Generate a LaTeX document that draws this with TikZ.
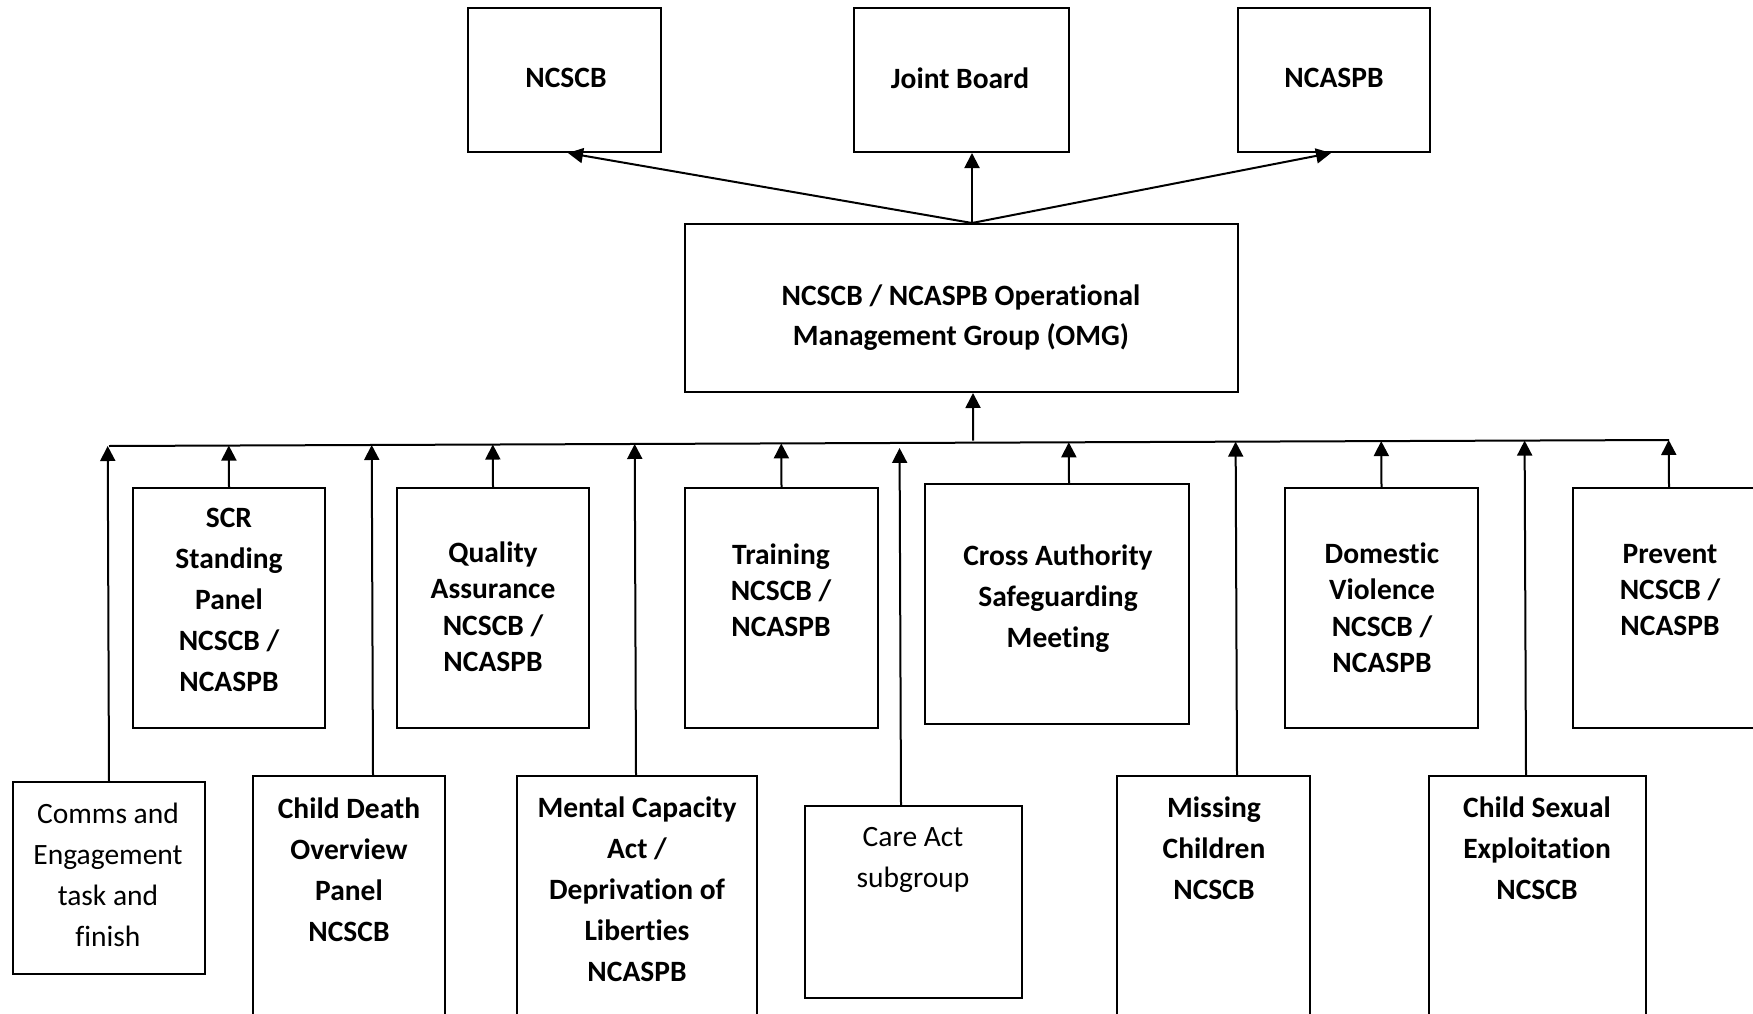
\documentclass[tikz,border=0pt]{standalone}
\usepackage{fontspec}
\setmainfont{Carlito}[Ligatures={NoCommon,NoContextual},Contextuals={NoAlternate}]
\usetikzlibrary{arrows.meta,calc}
\begin{document}
\begin{tikzpicture}[x=1pt,y=-1pt,
  box/.style={draw,line width=2pt,inner sep=0pt},
  ln/.style={line width=2pt},
  arr/.style={line width=2pt,-{Triangle[length=15pt,width=15pt]}},
  tb/.style={font=\bfseries\fontsize{29.5}{41}\selectfont,align=center,text depth=0pt,inner sep=0pt},
  tbs/.style={font=\bfseries\fontsize{29.5}{36.3}\selectfont,align=center,text depth=0pt,inner sep=0pt},
  tr/.style={font=\fontsize{29.5}{41}\selectfont,align=center,text depth=0pt,inner sep=0pt}]
\useasboundingbox (0,0) rectangle (1753,1014);
\clip (0,0) rectangle (1753,1014);
% top row
\node[box,minimum width=193pt,minimum height=144pt] (ncscb) at (564.5,80) {};
\node[box,minimum width=215pt,minimum height=144pt] (jb) at (961.5,80) {};
\node[box,minimum width=192pt,minimum height=144pt] (ncaspb) at (1334,80) {};
\node[tb] (t-ncscb) at (566,78) {NCSCB};
\node[tb] (t-jb) at (960,78) {Joint Board};
\node[tb] (t-ncaspb) at (1334,78) {NCASPB};
% OMG
\node[box,minimum width=553pt,minimum height=168pt] (omg) at (961.5,308) {};
\node[tb,font=\bfseries\fontsize{29.5}{40}\selectfont] (t-omg) at (961,315) {NCSCB / NCASPB Operational\\Management Group (OMG)};
% upper row of groups
\node[box,minimum width=192pt,minimum height=240pt] (scr) at (229,608) {};
\node[box,minimum width=192pt,minimum height=240pt] (qa) at (493,608) {};
\node[box,minimum width=193pt,minimum height=240pt] (trn) at (781.5,608) {};
\node[box,minimum width=264pt,minimum height=240pt] (ca) at (1057,604) {};
\node[box,minimum width=193pt,minimum height=240pt] (dv) at (1381.5,608) {};
\node[box,minimum width=192pt,minimum height=240pt] (pv) at (1669,608) {};
\node[tb] (t-scr) at (229,600) {SCR\\Standing\\Panel\\NCSCB /\\NCASPB};
\node[tbs] (t-qa) at (493,606.5) {Quality\\Assurance\\NCSCB /\\NCASPB};
\node[tbs] (t-trn) at (781,590) {Training\\NCSCB /\\NCASPB};
\node[tb] (t-ca) at (1058,596) {Cross Authority\\Safeguarding\\Meeting};
\node[tbs] (t-dv) at (1382,607.5) {Domestic\\Violence\\NCSCB /\\NCASPB};
\node[tbs] (t-pv) at (1670,590) {Prevent\\NCSCB /\\NCASPB};
% lower row of groups
\node[box,minimum width=192pt,minimum height=192pt] (cm) at (109,878) {};
\node[box,minimum width=192pt,minimum height=264pt] (cd) at (349,908) {};
\node[box,minimum width=240pt,minimum height=264pt] (mca) at (637,908) {};
\node[box,minimum width=217pt,minimum height=192pt] (care) at (913.5,902) {};
\node[box,minimum width=193pt,minimum height=264pt] (mis) at (1213.5,908) {};
\node[box,minimum width=217pt,minimum height=264pt] (cse) at (1537.5,908) {};
\node[tr] (t-cm) at (108,875) {Comms and\\Engagement\\task and\\finish};
\node[tb] (t-cd) at (349,869.5) {Child Death\\Overview\\Panel\\NCSCB};
\node[tb] (t-mca) at (637,889.5) {Mental Capacity\\Act /\\Deprivation of\\Liberties\\NCASPB};
\node[tr] (t-care) at (913,857.5) {Care Act\\subgroup};
\node[tb] (t-mis) at (1214,848.5) {Missing\\Children\\NCSCB};
\node[tb] (t-cse) at (1537,848.5) {Child Sexual\\Exploitation\\NCSCB};
% connectors to the boards
\coordinate (hub) at ([xshift=10.5pt]omg.north);
\draw[arr] (hub) -- ([xshift=3.5pt]ncscb.south);
\draw[arr] (hub) -- (hub |- jb.south);
\draw[arr] (hub) -- ([xshift=-3pt]ncaspb.south);
% bus
\coordinate (busL) at (109,446);
\coordinate (busR) at (1669,440);
\draw[ln] (busL) -- (busR);
\coordinate (omgin) at ([xshift=11.5pt]omg.south);
\draw[arr] ($(busL)!(omgin)!(busR)+(0,-2)$) -- (omgin);
% upper row to bus
\foreach \n/\dx in {scr/0,qa/0,trn/0,ca/12,dv/0,pv/0}{
  \draw[arr] ([xshift=\dx pt]\n.north) -- ($(busL)!([xshift=\dx pt]\n.north)!(busR)$);
}
% lower row to bus
\foreach \n/\dx in {cm/0,cd/24,mca/-1,mis/23.5,cse/-11.5}{
  \draw[arr] ([xshift=\dx pt]\n.north) -- ($(busL)!([xshift=\dx pt]\n.north)!(busR)$);
}
\draw[arr,shorten >=5pt] ([xshift=-12.5pt]care.north) -- ($(busL)!([xshift=-12.5pt]care.north)!(busR)$);
\end{tikzpicture}
\end{document}
